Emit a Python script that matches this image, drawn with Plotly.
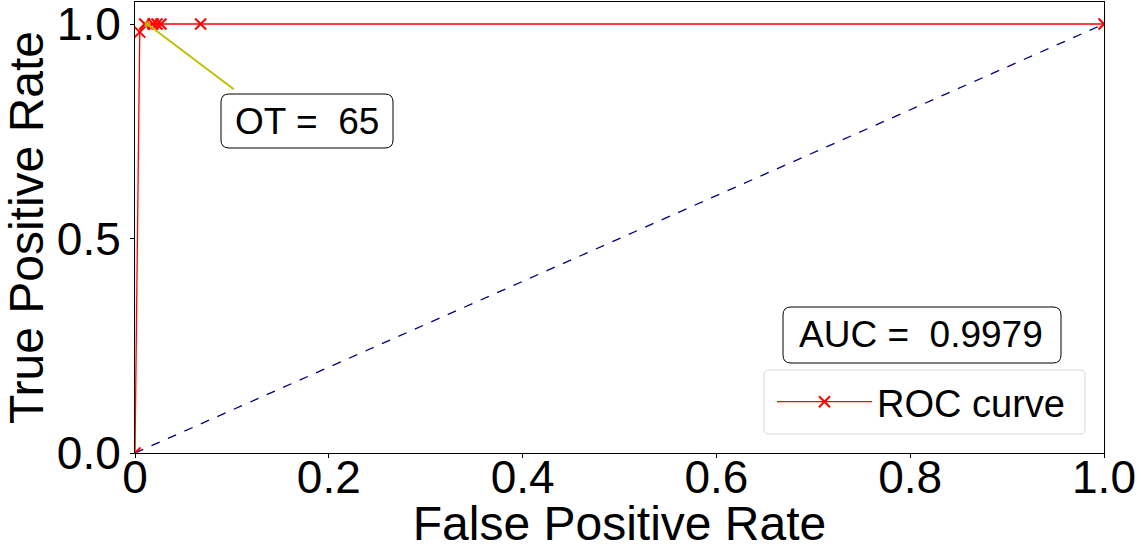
import plotly.graph_objects as go

# ROC curve points
fpr = [0.0, 0.0049, 0.0100, 0.0186, 0.0227, 0.0268, 0.0677, 1.0]
tpr = [0.0, 0.981, 1.0, 1.0, 1.0, 1.0, 1.0, 1.0]

# chance line
diag_x = [0.0, 1.0]
diag_y = [0.0, 1.0]

# optimal threshold point
ot_fpr = [0.0127]
ot_tpr = [1.0]
ot_value = 65
auc_value = 0.9979

x_ticks = [0.0, 0.2, 0.4, 0.6, 0.8, 1.0]
x_tick_labels = ["0", "0.2", "0.4", "0.6", "0.8", "1.0"]
y_ticks = [0.0, 0.5, 1.0]
y_tick_labels = ["0.0", "0.5", "1.0"]

FONT = "Liberation Sans, Arial, sans-serif"
W, H = 1141, 550
ML, MR, MT, MB = 135, 37, 2, 97
PW, PH = W - ML - MR, H - MT - MB


def px_to_paper(px, py):
    return (px - ML) / PW, (H - MB - py) / PH


def rounded_box(x0, y0, x1, y1, r=8):
    """Rounded rectangle path in paper coords from pixel corners."""
    ax0, ay1 = px_to_paper(x0, y0)
    ax1, ay0 = px_to_paper(x1, y1)
    rx, ry = r / PW, r / PH
    return (
        f"M{ax0 + rx},{ay1} L{ax1 - rx},{ay1} Q{ax1},{ay1} {ax1},{ay1 - ry} "
        f"L{ax1},{ay0 + ry} Q{ax1},{ay0} {ax1 - rx},{ay0} "
        f"L{ax0 + rx},{ay0} Q{ax0},{ay0} {ax0},{ay0 + ry} "
        f"L{ax0},{ay1 - ry} Q{ax0},{ay1} {ax0 + rx},{ay1} Z"
    )


fig = go.Figure()

fig.add_trace(go.Scatter(
    x=diag_x, y=diag_y, mode="lines",
    line=dict(color="navy", width=1.3, dash="dash"),
    showlegend=False, hoverinfo="skip",
))

fig.add_trace(go.Scatter(
    x=fpr, y=tpr, mode="lines+markers", name="ROC curve",
    line=dict(color="red", width=1.3),
    marker=dict(symbol="x-thin", size=11, color="red",
                line=dict(color="red", width=2)),
))

fig.add_trace(go.Scatter(
    x=ot_fpr, y=ot_tpr, mode="markers",
    marker=dict(symbol="square", size=5, color="#c8a800"),
    showlegend=False, hoverinfo="skip",
))

# leader line from the optimal point to its label
fig.add_shape(type="line", xref="x", yref="y",
              x0=ot_fpr[0], y0=ot_tpr[0], x1=0.102, y1=0.848,
              line=dict(color="#bfbf00", width=2))

# label boxes
fig.add_shape(type="path", xref="paper", yref="paper",
              path=rounded_box(221, 94, 393, 148),
              line=dict(color="black", width=1), fillcolor="white")
fig.add_shape(type="path", xref="paper", yref="paper",
              path=rounded_box(783, 307, 1061, 363),
              line=dict(color="black", width=1), fillcolor="white")
fig.add_shape(type="path", xref="paper", yref="paper",
              path=rounded_box(764, 370, 1085, 434, r=5),
              line=dict(color="#d8d8d8", width=1), fillcolor="white",
              layer="above")

ox, oy = px_to_paper(307, 121)
fig.add_annotation(xref="paper", yref="paper", x=ox, y=oy,
                   xanchor="center", yanchor="middle",
                   text=f"OT =\u00a0\u00a0{ot_value}", showarrow=False,
                   font=dict(family=FONT, size=37, color="black"))
ax_, ay_ = px_to_paper(921, 335)
fig.add_annotation(xref="paper", yref="paper", x=ax_, y=ay_,
                   xanchor="center", yanchor="middle",
                   text=f"AUC =\u00a0\u00a0{auc_value}", showarrow=False,
                   font=dict(family=FONT, size=37, color="black"))

lx, ly = px_to_paper(772, 402)
fig.update_layout(
    width=W, height=H,
    margin=dict(l=ML, r=MR, t=MT, b=MB),
    paper_bgcolor="white", plot_bgcolor="white",
    font=dict(family=FONT, color="black"),
    legend=dict(x=lx, y=ly, xanchor="left", yanchor="middle",
                bgcolor="rgba(0,0,0,0)", borderwidth=0,
                font=dict(family=FONT, size=38, color="black"),
                itemwidth=95),
    xaxis=dict(range=[0, 1], tickvals=x_ticks, ticktext=x_tick_labels,
               showgrid=False, zeroline=False, showline=True,
               linecolor="black", linewidth=1, mirror=True,
               ticks="outside", ticklen=4, tickcolor="black",
               ticklabelstandoff=-20, ticklabeloverflow="allow",
               automargin=False,
               tickfont=dict(family=FONT, size=46),
               title=dict(text="False Positive Rate",
                          font=dict(family=FONT, size=48), standoff=0)),
    yaxis=dict(range=[0, 1.0513], tickvals=y_ticks, ticktext=y_tick_labels,
               showgrid=False, zeroline=False, showline=True,
               linecolor="black", linewidth=1, mirror=True,
               ticks="outside", ticklen=4, tickcolor="black",
               ticklabeloverflow="allow", automargin=False,
               tickfont=dict(family=FONT, size=46),
               title=dict(text="True Positive Rate",
                          font=dict(family=FONT, size=48), standoff=0)),
)

fig.write_html("out.html")
